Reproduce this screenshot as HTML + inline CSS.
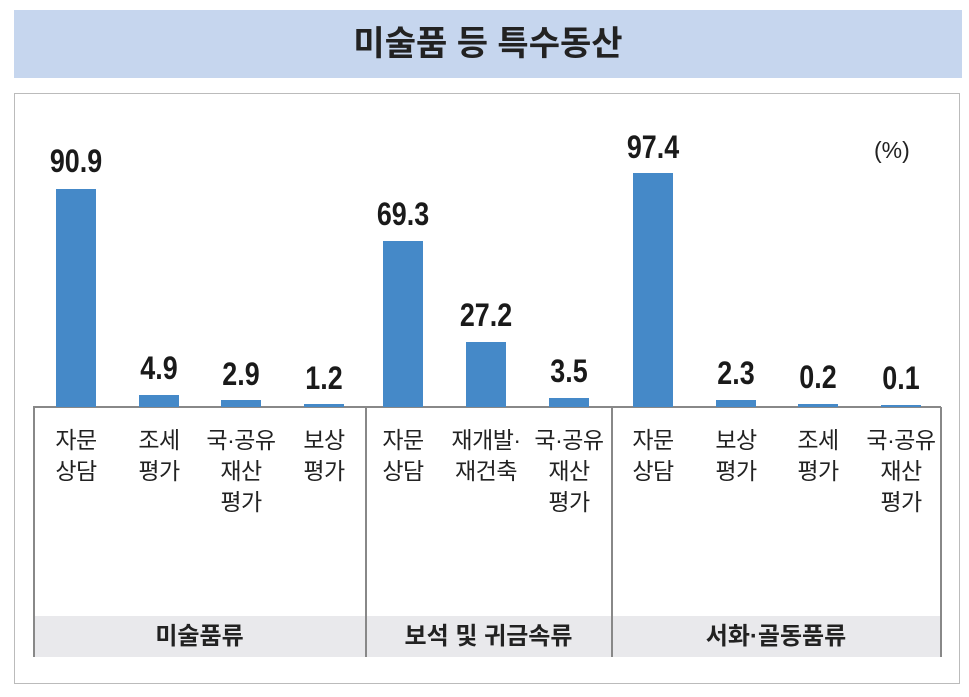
<!DOCTYPE html>
<html><head><meta charset="utf-8"><style>
body{margin:0;width:969px;height:697px;background:#fff;position:relative;overflow:hidden;font-family:"Liberation Sans","Noto Sans CJK KR",sans-serif;}
.a{position:absolute;}
.title{left:14px;top:10px;width:948px;height:68px;background:#c6d6ee;text-align:center;line-height:68px;font-size:34px;font-weight:bold;color:#222;}
.box{left:14px;top:93px;width:944px;height:589px;border:1.5px solid #bbb;}
.bar{position:absolute;background:#4589c8;width:40px;}
.val{position:absolute;width:100px;text-align:center;font-size:32px;line-height:37px;font-weight:bold;color:#1a1a1a;transform:scaleX(0.84);}
.cat{position:absolute;width:90px;text-align:center;font-size:23px;line-height:31px;color:#222;top:425px;letter-spacing:-0.5px;}
.vl{position:absolute;width:1.5px;background:#888;top:407px;height:250px;}
.band{position:absolute;top:616px;height:41px;background:#e9e9ec;text-align:center;line-height:41px;font-size:24px;font-weight:bold;color:#222;}
</style></head><body>
<div class="a title">미술품 등 특수동산</div>
<div class="a box"></div>
<div class="band" style="left:34px;width:331px">미술품류</div>
<div class="band" style="left:366px;width:245px">보석 및 귀금속류</div>
<div class="band" style="left:612px;width:328px">서화·골동품류</div>
<div class="a" style="left:33px;top:406px;width:908px;height:1.5px;background:#888"></div>
<div class="vl" style="left:33px"></div>
<div class="vl" style="left:365px"></div>
<div class="vl" style="left:611px"></div>
<div class="vl" style="left:940px"></div>
<div class="a" style="left:874px;top:137px;font-size:23px;color:#222">(%)</div>

<div class="bar" style="left:56px;top:189px;height:218px"></div>
<div class="bar" style="left:139px;top:395px;height:12px"></div>
<div class="bar" style="left:221px;top:400px;height:7px"></div>
<div class="bar" style="left:304px;top:404px;height:3px"></div>
<div class="bar" style="left:383px;top:241px;height:166px"></div>
<div class="bar" style="left:466px;top:342px;height:65px"></div>
<div class="bar" style="left:549px;top:398px;height:9px"></div>
<div class="bar" style="left:633px;top:173px;height:234px"></div>
<div class="bar" style="left:716px;top:400px;height:7px"></div>
<div class="bar" style="left:798px;top:404px;height:3px"></div>
<div class="bar" style="left:881px;top:405px;height:2px"></div>

<div class="val" style="left:26px;top:143px">90.9</div>
<div class="val" style="left:109px;top:350px">4.9</div>
<div class="val" style="left:191px;top:356px">2.9</div>
<div class="val" style="left:274px;top:360px">1.2</div>
<div class="val" style="left:353px;top:196px">69.3</div>
<div class="val" style="left:436px;top:297px">27.2</div>
<div class="val" style="left:519px;top:353px">3.5</div>
<div class="val" style="left:603px;top:129px">97.4</div>
<div class="val" style="left:686px;top:355px">2.3</div>
<div class="val" style="left:768px;top:359px">0.2</div>
<div class="val" style="left:851px;top:360px">0.1</div>

<div class="cat" style="left:31px">자문<br>상담</div>
<div class="cat" style="left:114px">조세<br>평가</div>
<div class="cat" style="left:196px">국·공유<br>재산<br>평가</div>
<div class="cat" style="left:279px">보상<br>평가</div>
<div class="cat" style="left:358px">자문<br>상담</div>
<div class="cat" style="left:441px">재개발·<br>재건축</div>
<div class="cat" style="left:524px">국·공유<br>재산<br>평가</div>
<div class="cat" style="left:608px">자문<br>상담</div>
<div class="cat" style="left:691px">보상<br>평가</div>
<div class="cat" style="left:773px">조세<br>평가</div>
<div class="cat" style="left:856px">국·공유<br>재산<br>평가</div>
</body></html>
